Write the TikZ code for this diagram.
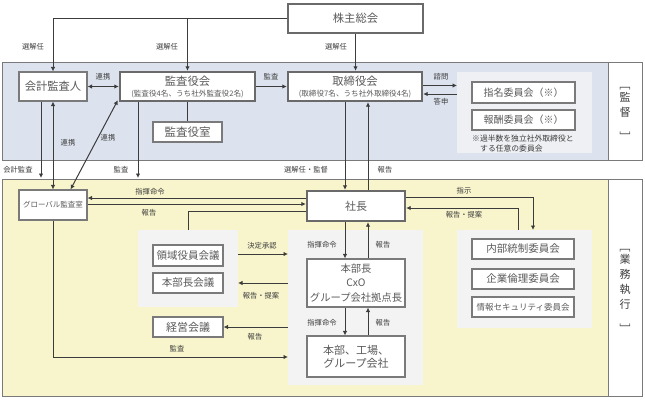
\documentclass[tikz,border=0pt]{standalone}
\usepackage{fontspec}
\setmainfont{Noto Sans CJK JP}
\usetikzlibrary{arrows.meta,calc}
\definecolor{bandblue}{HTML}{DCE3EE}
\definecolor{bandyel}{HTML}{F8F5CC}
\definecolor{panelc}{HTML}{F2F3F2}
\definecolor{panelb}{HTML}{EEF0F3}
\definecolor{bordc}{HTML}{7A7A7A}
\definecolor{thickc}{HTML}{6A6A6A}
\definecolor{txtc}{HTML}{5A5A5A}
\definecolor{linec}{HTML}{3C3C3C}
\begin{document}
\begin{tikzpicture}[x=1pt,y=-1pt,
  box/.style={draw=bordc,line width=1.1pt,fill=white,inner sep=0pt,text=txtc,align=center,font=\fontsize{7.5}{11}\selectfont},
  thickbox/.style={box,line width=2.4pt,draw=thickc},
  panel/.style={fill=panelc,draw=none,inner sep=0pt,outer sep=0pt},
  arr/.style={draw=linec,line width=1pt,-{Latex[length=4.5pt,width=4.5pt]}},
  arrb/.style={draw=linec,line width=1pt,{Latex[length=4.5pt,width=4.5pt]}-{Latex[length=4.5pt,width=4.5pt]}},
  ln/.style={draw=linec,line width=1pt},
  lbl/.style={font=\fontsize{7.3}{8}\selectfont,text=linec,inner sep=0pt},
  vt/.style={font=\fontsize{11}{15}\selectfont,text=linec,align=center,inner sep=0pt},
  band/.style={draw=bordc,line width=0.8pt},
]
\fill[white] (0,0) rectangle (645,399);
\useasboundingbox (0,0) rectangle (645,399);
% bands
\draw[band,fill=bandblue] (2,62) rectangle (608,160);
\draw[band,fill=white] (608,62) rectangle (642,160);
\draw[band,fill=bandyel] (2,179) rectangle (608,396);
\draw[band,fill=white] (608,179) rectangle (642,396);
% panels
\node[panel,fill=panelb,minimum width=135pt,minimum height=81pt] (bpanel) at (524.5,112.5) {};
\node[panel,minimum width=100pt,minimum height=77pt] (lpanel) at (188,268.5) {};
\node[panel,minimum width=135pt,minimum height=155pt] (mpanel) at (355.5,307.5) {};
\node[panel,minimum width=135pt,minimum height=98pt] (rpanel) at (524.5,279) {};
% boxes
\node[thickbox,minimum width=135pt,minimum height=29pt] (soukai) at (355.5,18.5) {{\fontsize{11.3}{13}\selectfont 株主総会}};
\node[box,minimum width=68pt,minimum height=29pt] (kaikei) at (53,86.5) {{\fontsize{11.3}{13}\selectfont 会計監査人}};
\node[thickbox,minimum width=135pt,minimum height=29pt] (kansa) at (187.5,86.5) {{\fontsize{11.3}{13}\selectfont 監査役会}\\{\fontsize{7.6}{9}\selectfont (監査役4名、うち社外監査役2名)}};
\node[box,minimum width=69pt,minimum height=20pt] (kansashitsu) at (187.5,132) {{\fontsize{11.5}{13}\selectfont 監査役室}};
\node[thickbox,minimum width=134pt,minimum height=29pt] (torishimari) at (355,86.5) {{\fontsize{11.3}{13}\selectfont 取締役会}\\{\fontsize{7.6}{9}\selectfont (取締役7名、うち社外取締役4名)}};
\node[box,minimum width=103pt,minimum height=21pt] (shimei) at (523.5,92.5) {{\fontsize{10}{12}\selectfont 指名委員会（※）}};
\node[box,minimum width=103pt,minimum height=20pt] (houshu) at (523.5,120) {{\fontsize{10}{12}\selectfont 報酬委員会（※）}};
\node[lbl,font=\fontsize{7.8}{10}\selectfont,align=left,anchor=north west] (note) at (472,134.5) {※過半数を独立社外取締役と\\\hspace*{8pt}する任意の委員会};
\node[box,minimum width=68pt,minimum height=30pt] (global) at (53,205) {{\fontsize{7.5}{9}\selectfont グローバル監査室}};
\node[thickbox,minimum width=98pt,minimum height=30pt] (shacho) at (356,206) {{\fontsize{11}{13}\selectfont 社長}};
\node[box,minimum width=70pt,minimum height=21pt] (ryoiki) at (188,255.5) {{\fontsize{10.5}{12}\selectfont 領域役員会議}};
\node[box,minimum width=70pt,minimum height=20pt] (honbuchokaigi) at (188,283) {{\fontsize{10.5}{12}\selectfont 本部長会議}};
\node[box,minimum width=70pt,minimum height=20pt] (keiei) at (188,327) {{\fontsize{11}{12}\selectfont 経営会議}};
\node[box,minimum width=98pt,minimum height=48pt,font=\fontsize{10.3}{14.5}\selectfont] (honbucho) at (356,283) {本部長\\CxO\\グループ会社拠点長};
\node[box,minimum width=98pt,minimum height=41pt,font=\fontsize{11}{13}\selectfont] (honbu) at (356,356.5) {本部、工場、\\グループ会社};
\node[box,minimum width=102pt,minimum height=20pt] (naibu) at (523,249) {{\fontsize{10.5}{12}\selectfont 内部統制委員会}};
\node[box,minimum width=102pt,minimum height=20pt] (kigyo) at (523,279) {{\fontsize{10.5}{12}\selectfont 企業倫理委員会}};
\node[box,minimum width=102pt,minimum height=20pt] (joho) at (523,307) {{\fontsize{8.5}{10}\selectfont 情報セキュリティ委員会}};
% vertical labels
\node[vt] (kantoku) at (625,111) {\rotatebox{-90}{［}\\監\\督\\\rotatebox{-90}{］}};
\node[vt] (gyomu) at (625,288) {\rotatebox{-90}{［}\\業\\務\\執\\行\\\rotatebox{-90}{］}};
% helper coordinates
\coordinate (xK1) at (41,0);
\coordinate (xK2) at (138,0);
\coordinate (xA) at (345,0);
\coordinate (xB) at (368,0);
\coordinate (xS) at (533,0);
\coordinate (xR) at (518,0);
\coordinate (y197) at (0,197);
\coordinate (y198) at (0,198);
\coordinate (y204) at (0,204);
\coordinate (y208) at (0,208);
\coordinate (y211) at (0,211);
\coordinate (y254) at (0,254);
\coordinate (y283) at (0,283);
\coordinate (y357) at (0,357);
\coordinate (kaikeiEnd) at (41,178);
\coordinate (kansaEnd) at (138,178);
% connectors (top)
\draw[arr] (soukai.west) -| (kaikei.north);
\draw[arr] (soukai.west -| kansa.north) -- (kansa.north);
\draw[arr] (soukai.south) -- (soukai.south |- torishimari.north);
\draw[arrb] (kaikei.east) -- (kansa.west);
\draw[arr] (kansa.east) -- (torishimari.west);
\draw[arr] ([yshift=1pt]torishimari.east) -- ([yshift=1pt]torishimari.east -| bpanel.west);
\draw[arr] ([yshift=-7.5pt]torishimari.east -| bpanel.west) -- ([yshift=-7.5pt]torishimari.east);
\draw[ln] (kansa.south) -- (kansashitsu.north);
\draw[arr] (kaikei.south -| xK1) -- (kaikeiEnd);
\draw[arrb] (kaikei.south) -- (global.north);
\draw[arrb] ([xshift=-17pt]global.north east) -- ([shift={(-1pt,2pt)}]kansa.south west);
\draw[arr] (kansa.south -| xK2) -- (kansaEnd);
\draw[arr] (torishimari.south -| xA) -- (shacho.north -| xA);
\draw[arr] (shacho.north -| xB) -- (torishimari.south -| xB);
% connectors (execution)
\draw[arr] (shacho.west |- y198) -- (global.east |- y198);
\draw[arr] (global.east |- y204) -- (shacho.west |- y204);
\draw[ln] (lpanel.north) |- (shacho.west |- y211);
\draw[arr] (lpanel.east |- y254) -- (mpanel.west |- y254);
\draw[arr] (mpanel.west |- y283) -- (lpanel.east |- y283);
\draw[arr] (mpanel.west |- keiei.east) -- (keiei.east);
\draw[arr] (global.south) |- (mpanel.west |- y357);
\draw[arr] (shacho.south -| xA) -- (honbucho.north -| xA);
\draw[arr] (honbucho.north -| xB) -- (shacho.south -| xB);
\draw[arr] (honbucho.south -| xA) -- (honbu.north -| xA);
\draw[arr] (honbu.north -| xB) -- (honbucho.south -| xB);
\draw[arr] (shacho.east |- y197) -| (rpanel.north -| xS);
\draw[arr] (rpanel.north -| xR) |- (shacho.east |- y208);
% labels
\node[lbl] (l1) at (33,47) {選解任};
\node[lbl] (l2) at (167,47) {選解任};
\node[lbl] (l3) at (336,47) {選解任};
\node[lbl] (l4) at (103,77) {連携};
\node[lbl] (l5) at (271,77) {監査};
\node[lbl] (l6) at (441,77) {諮問};
\node[lbl] (l7) at (441,102) {答申};
\node[lbl] (l8) at (68,143) {連携};
\node[lbl] (l9) at (108,138) {連携};
\node[lbl] (l10) at (18,170) {会計監査};
\node[lbl] (l11) at (121,170) {監査};
\node[lbl] (l12) at (306,170) {選解任・監督};
\node[lbl] (l13) at (385,170) {報告};
\node[lbl] (l14) at (150,192) {指揮命令};
\node[lbl] (l15) at (149,213) {報告};
\node[lbl] (l16) at (262,246) {決定承認};
\node[lbl] (l17) at (261,296) {報告・提案};
\node[lbl] (l18) at (255,337) {報告};
\node[lbl] (l19) at (177,349) {監査};
\node[lbl] (l20) at (322,245) {指揮命令};
\node[lbl] (l21) at (383,245) {報告};
\node[lbl] (l22) at (322,323) {指揮命令};
\node[lbl] (l23) at (383,323) {報告};
\node[lbl] (l24) at (464,191) {指示};
\node[lbl] (l25) at (464,215) {報告・提案};
\end{tikzpicture}
\end{document}
